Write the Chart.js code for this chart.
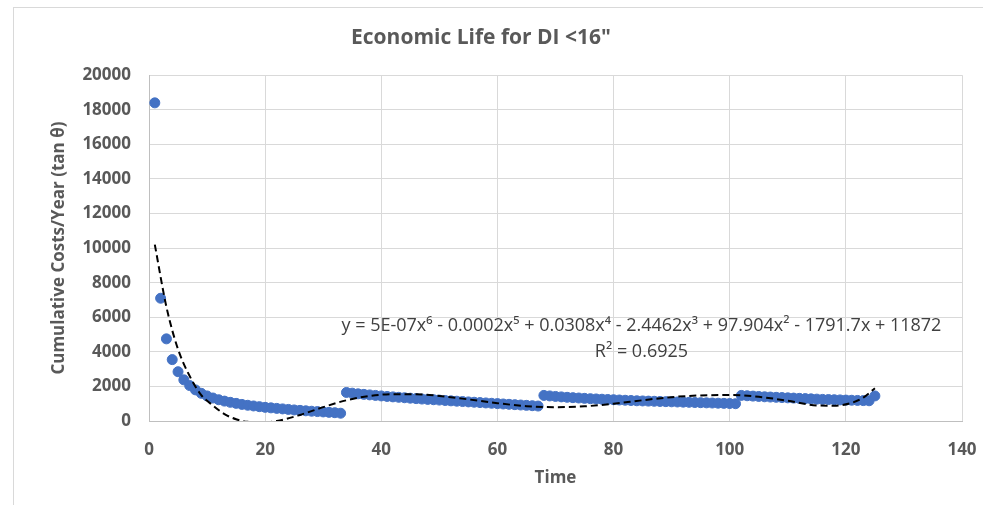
<!DOCTYPE html>
<html>
<head>
<meta charset="utf-8">
<script src="https://cdn.jsdelivr.net/npm/chart.js@4/dist/chart.umd.min.js"></script>
<style>
  html, body { margin: 0; padding: 0; background: #fff; overflow: hidden; }
  #frame { position: absolute; left: 13px; top: 7px; width: 1000px; height: 520px; border: 1px solid #d9d9d9; }
  /* chart box runs past the right edge of the window, like the original frame */
  #wrap { position: absolute; left: 0; top: 0; width: 1038px; height: 505px; }
</style>
</head>
<body>
<div id="frame"></div>
<div id="wrap"><canvas id="chart"></canvas></div>
<script>
// cumulative costs / year, one value per year of service (time 1..125)
const costs = [
  18400, 7100, 4750, 3550, 2850, 2380, 2050, 1800, 1600, 1450,
  1330, 1230, 1150, 1080, 1020, 960, 910, 870, 830, 790,
  760, 730, 700, 670, 640, 615, 590, 565, 545, 525,
  500, 480, 450,
  1650, 1610, 1570, 1540, 1510, 1480, 1450, 1420, 1395, 1370,
  1345, 1320, 1295, 1270, 1250, 1230, 1210, 1185, 1165, 1145,
  1125, 1105, 1085, 1065, 1045, 1025, 1005, 985, 965, 945,
  925, 905, 885, 865,
  1480, 1450, 1420, 1395, 1370, 1350, 1330, 1310, 1290, 1275,
  1260, 1245, 1230, 1215, 1200, 1185, 1170, 1160, 1150, 1140,
  1130, 1120, 1110, 1100, 1090, 1080, 1070, 1060, 1050, 1040,
  1030, 1020, 1010, 1000,
  1480, 1460, 1440, 1420, 1400, 1385, 1370, 1355, 1340, 1325,
  1310, 1295, 1280, 1265, 1250, 1240, 1230, 1220, 1210, 1200,
  1190, 1180, 1170, 1450
];

// 6th order polynomial trendline
const trendTime = [1, 3, 5, 7, 9, 11, 13, 15, 17, 19, 22, 26, 30, 34, 38, 42, 46, 50, 55, 60,
  65, 70, 75, 80, 85, 90, 95, 100, 105, 110, 115, 118, 121, 123, 125];
const trendCost = [10200, 6600, 4150, 2600, 1500, 900, 400, 100, -50, -80, 0, 350, 800, 1200, 1450, 1550, 1550, 1450, 1250, 1030,
  860, 800, 850, 1000, 1200, 1380, 1480, 1500, 1400, 1170, 900, 880, 1050, 1350, 1900];

const xTicks = [0, 20, 40, 60, 80, 100, 120, 140];
const yTicks = [0, 2000, 4000, 6000, 8000, 10000, 12000, 14000, 16000, 18000, 20000];

const chartTitle = 'Economic Life for DI <16"';
const xTitle = 'Time';
const yTitle = 'Cumulative Costs/Year (tan \u03B8)';
const equationText = 'y = 5E-07x\u2076 - 0.0002x\u2075 + 0.0308x\u2074 - 2.4462x\u00B3 + 97.904x\u00B2 - 1791.7x + 11872';
const r2Text = 'R\u00B2 = 0.6925';

const FONT = "'Open Sans', 'Liberation Sans', sans-serif";
const GREY = '#595959';

let points = [];
for (let i = 0; i < costs.length; i++) {
  points.push({x: i + 1, y: costs[i]});
}
let trend = [];
for (let i = 0; i < trendTime.length; i++) {
  trend.push({x: trendTime[i], y: trendCost[i]});
}

const equationLabel = {
  id: 'equationLabel',
  afterDatasetsDraw(chart) {
    const ctx = chart.ctx;
    const x = chart.scales.x;
    const y = chart.scales.y;
    ctx.save();
    ctx.font = '18px ' + FONT;
    ctx.fillStyle = '#404040';
    ctx.textAlign = 'center';
    ctx.textBaseline = 'middle';
    ctx.fillText(equationText, x.getPixelForValue(84.8), y.getPixelForValue(5500));
    ctx.fillText(r2Text, x.getPixelForValue(84.8), y.getPixelForValue(4000));
    ctx.restore();
  }
};

new Chart(document.getElementById('chart'), {
  type: 'scatter',
  data: {
    datasets: [{
      label: 'Cost',
      data: points,
      backgroundColor: '#4472C4',
      borderColor: '#4472C4',
      pointRadius: 5,
      pointHoverRadius: 5,
      order: 2
    }, {
      type: 'line',
      label: 'Poly. trend',
      data: trend,
      borderColor: '#000000',
      borderWidth: 2,
      borderDash: [7, 4],
      pointRadius: 0,
      fill: false,
      cubicInterpolationMode: 'monotone',
      order: 1
    }]
  },
  plugins: [equationLabel],
  options: {
    responsive: true,
    maintainAspectRatio: false,
    animation: false,
    layout: { padding: { left: 0, right: 76, top: 0, bottom: 0 } },
    plugins: {
      legend: { display: false },
      tooltip: { enabled: false },
      title: {
        display: true,
        text: chartTitle,
        color: GREY,
        font: { family: FONT, size: 21, weight: 'bold' },
        padding: { top: 25, bottom: 25 }
      }
    },
    scales: {
      x: {
        type: 'linear',
        min: 0,
        max: 140,
        afterBuildTicks: (scale) => { scale.ticks = xTicks.map(v => ({value: v})); },
        afterFit: (scale) => { scale.height = 84; },
        grid: { color: '#d9d9d9', drawTicks: false },
        border: { color: '#bfbfbf' },
        ticks: { color: GREY, font: { family: FONT, size: 17, weight: 'bold' }, padding: 19 },
        title: { display: true, text: xTitle, color: GREY, font: { family: FONT, size: 17, weight: 'bold' }, padding: { top: 4, bottom: 17 } }
      },
      y: {
        min: 0,
        max: 20000,
        afterBuildTicks: (scale) => { scale.ticks = yTicks.map(v => ({value: v})); },
        afterFit: (scale) => { scale.width = 149; },
        grid: { color: '#d9d9d9', drawTicks: false },
        border: { color: '#bfbfbf' },
        ticks: {
          color: GREY,
          font: { family: FONT, size: 17, weight: 'bold' },
          padding: 18,
          callback: (v) => String(v)
        },
        title: { display: true, text: yTitle, color: GREY, font: { family: FONT, size: 17, weight: 'bold' }, padding: { top: 49, bottom: 6 } }
      }
    }
  }
});
</script>
</body>
</html>
